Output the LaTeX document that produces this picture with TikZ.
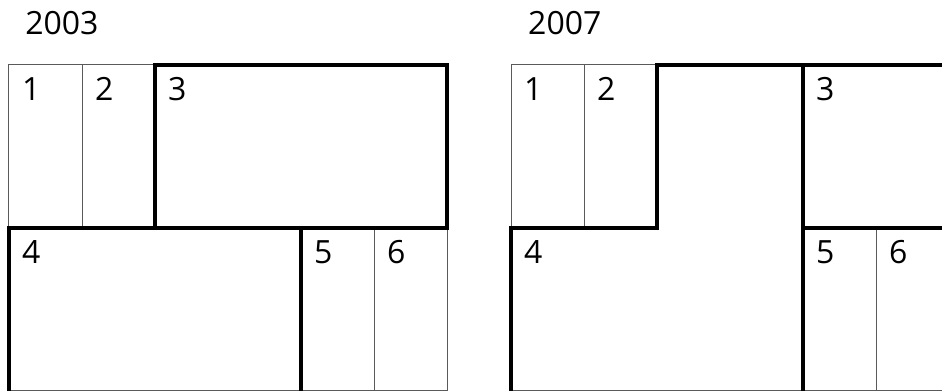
\documentclass[tikz,border=0pt]{standalone}
\usepackage{fontspec}
\setmainfont{Open Sans}
\usepackage{tikz}
\usetikzlibrary{calc}
\definecolor{gris}{HTML}{5A5A5A}

\begin{document}
\begin{tikzpicture}[x=73pt, y=163pt,
    fino/.style={gris, line width=1pt},
    grueso/.style={black, line width=3.6pt},
    num/.style={anchor=base west, inner sep=0pt, font=\fontsize{32}{38}\selectfont}]
    \clip (-9/73, -1/163) rectangle (933/73, 391/163);
    % 2003: seis parcelas
    \node[num] (y03) at (0.22, 2.184) {2003};
    \foreach \i in {0,1} \draw[fino] (\i,1) rectangle (\i+1,2);
    \foreach \i in {4,5} \draw[fino] (\i,0) rectangle (\i+1,1);
    \draw[fino] (0,0) -- (4,0);
    \draw[grueso] (2,1) rectangle (6,2);
    \draw[grueso] (0,0) -- (0,1) -- (4,1) -- (4,0);
    \foreach \n/\x/\y in {1/0/2, 2/1/2, 3/2/2, 4/0/1, 5/4/1, 6/5/1}
      \node[num] (a\n) at (\x+0.178, \y-0.215) {\n};
    % 2007: la parcela 4 crece hacia arriba
    \begin{scope}[xshift=502pt]
      \node[num] (y07) at (0.233, 2.184) {2007};
      \foreach \i in {0,1} \draw[fino] (\i,1) rectangle (\i+1,2);
      \draw[fino] (5,0) -- (5,1);
      \draw[fino] (0,0) -- (6,0);
      \draw[grueso] (0,0) -- (0,1) -- (2,1) -- (2,2) -- (6,2);
      \draw[grueso] (4,0) -- (4,2);
      \draw[grueso] (4,1) -- (6,1);
      \foreach \n/\x/\y in {1/0/2, 2/1/2, 3/4/2, 4/0/1, 5/4/1, 6/5/1}
        \node[num] (b\n) at (\x+0.178, \y-0.215) {\n};
    \end{scope}
  \end{tikzpicture}
\end{document}
